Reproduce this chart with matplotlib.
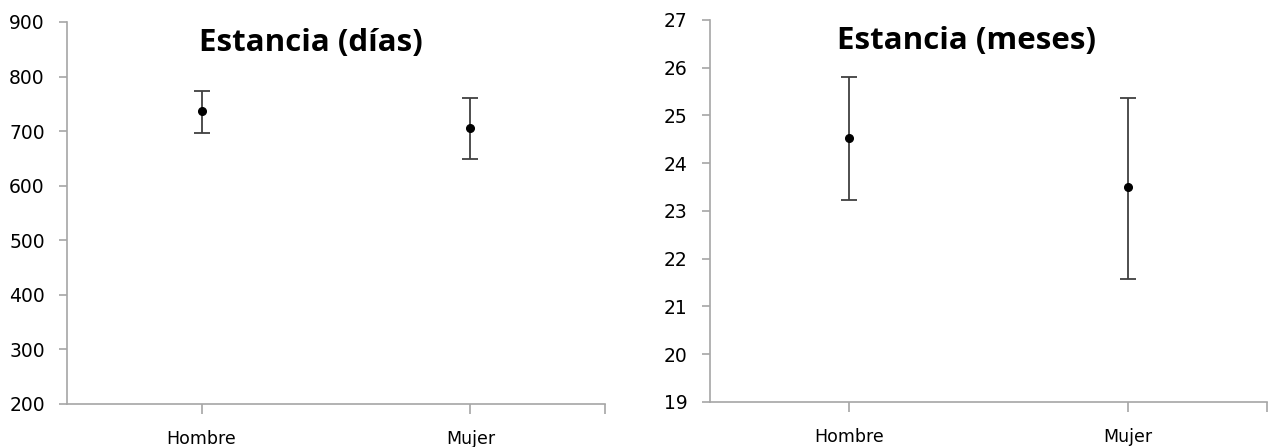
import matplotlib.pyplot as plt
import numpy as np

# --- data ---
categories = ["Hombre", "Mujer"]

dias_mean = [737, 705]
dias_low = [697, 649]
dias_high = [774, 761]

meses_mean = [24.53, 23.49]
meses_low = [23.23, 21.58]
meses_high = [25.81, 25.36]

axis_gray = "#a6a6a6"
bar_gray = "#404040"


def draw_panel(ax, mean, low, high, ylim, step):
    x = np.arange(len(categories)) + 0.5
    mean = np.array(mean)
    yerr = [mean - np.array(low), np.array(high) - mean]
    ax.errorbar(x, mean, yerr=yerr, fmt="o", color="black", markersize=5.5,
                ecolor=bar_gray, elinewidth=1.3, capsize=6, capthick=1.3)
    ax.set_xlim(0, len(categories))
    ax.set_ylim(*ylim)
    ax.set_yticks(np.arange(ylim[0], ylim[1] + step / 2, step))
    ax.set_xticks(x)
    ax.set_xticklabels(categories)
    ax.set_xticks([len(categories)], minor=True)
    for s in ["top", "right"]:
        ax.spines[s].set_visible(False)
    for s in ["left", "bottom"]:
        ax.spines[s].set_color(axis_gray)
        ax.spines[s].set_linewidth(1.2)
    ax.tick_params(axis="y", which="both", colors=axis_gray, labelcolor="black",
                   length=6, width=1.2, labelsize=13.5, pad=10)
    ax.tick_params(axis="x", which="both", colors=axis_gray, labelcolor="black",
                   length=7, width=1.2, labelsize=12.5, pad=12)


fig = plt.figure(figsize=(12.72, 4.47), dpi=100)
ax1 = fig.add_axes([0.0527, 0.0962, 0.4229, 0.8546])
ax2 = fig.add_axes([0.5582, 0.1013, 0.4378, 0.854])

draw_panel(ax1, dias_mean, dias_low, dias_high, (200, 900), 100)
draw_panel(ax2, meses_mean, meses_low, meses_high, (19, 27), 1)

fig.text(0.2445, 0.903, "Estancia (días)", ha="center", va="center",
         fontsize=22.5, fontweight="bold", family="Open Sans")
fig.text(0.760, 0.908, "Estancia (meses)", ha="center", va="center",
         fontsize=22.5, fontweight="bold", family="Open Sans")

fig.savefig("out.png", dpi=100)
